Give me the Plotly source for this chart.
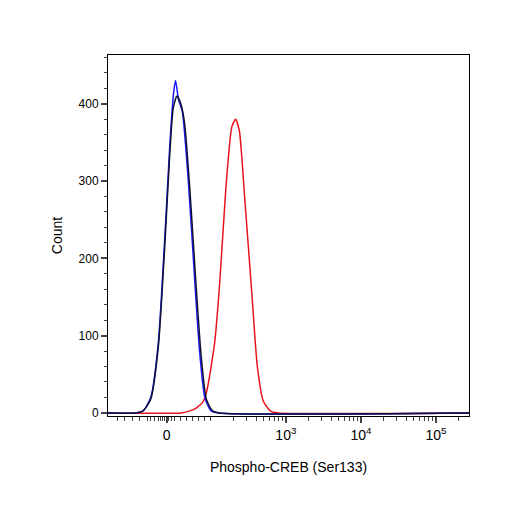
import numpy as np
import plotly.graph_objects as go

# x in display units (decades, biexponential-like axis)
blue_x = [0.63, 1.0, 1.1, 1.2, 1.3, 1.4, 1.45, 1.5, 1.53, 1.57, 1.62, 1.7, 1.78, 1.85, 1.92, 2.0, 2.1, 5.44]
blue_y = [0, 0, 3, 20, 90, 250, 340, 410, 430, 405, 390, 300, 180, 80, 20, 3, 0, 0]
black_x = [0.63, 1.0, 1.1, 1.2, 1.3, 1.4, 1.45, 1.5, 1.55, 1.6, 1.65, 1.72, 1.8, 1.87, 1.94, 2.02, 2.12, 5.44]
black_y = [0, 0, 3, 18, 85, 240, 330, 395, 410, 400, 375, 290, 170, 75, 18, 3, 0, 0]
red_x = [0.63, 1.6, 1.7, 1.8, 1.9, 1.95, 2.05, 2.12, 2.2, 2.28, 2.33, 2.38, 2.45, 2.55, 2.62, 2.7, 2.8, 2.9, 5.44]
red_y = [0, 0, 2, 6, 15, 30, 90, 170, 290, 370, 380, 365, 280, 150, 60, 15, 2, 0, 0]

major_x = [1.41, 3, 4, 5]
major_labels = ["0", "10<sup>3</sup>", "10<sup>4</sup>", "10<sup>5</sup>"]
minor_x = ([0.75, 0.85, 0.95, 1.05, 1.15, 1.2, 1.25, 1.3, 1.33, 1.36, 1.38, 1.41, 1.44, 1.47, 1.52, 1.6, 1.68, 1.76, 1.84, 1.92, 2.0]
           + [d + np.log10(k) for d in (2, 3, 4) for k in range(2, 10)] + [2, 5.3])

fig = go.Figure()
line_style = dict(width=1.5, shape="spline", smoothing=0.6)
fig.add_trace(go.Scatter(x=red_x, y=red_y, mode="lines", line=dict(color="#e8141c", **line_style)))
fig.add_trace(go.Scatter(x=blue_x, y=blue_y, mode="lines", line=dict(color="#1a1aff", **line_style)))
fig.add_trace(go.Scatter(x=black_x, y=black_y, mode="lines", line=dict(color="#111133", **line_style)))
fig.add_trace(go.Scatter(x=[None], y=[None], xaxis="x2", showlegend=False))

fig.update_layout(
    width=506, height=506, showlegend=False,
    paper_bgcolor="white", plot_bgcolor="white",
    margin=dict(l=100, r=45, t=47, b=98),
    font=dict(family="Arial, Liberation Sans", size=12, color="black"),
    xaxis=dict(range=[0.63, 5.44], tickvals=major_x, ticktext=major_labels, automargin=False,
               ticks="outside", ticklen=6, tickwidth=2, showgrid=False, zeroline=False,
               showline=True, linecolor="black", linewidth=1, mirror=True,
               title=dict(text="Phospho-CREB (Ser133)", standoff=20, font=dict(size=14)),
               tickfont=dict(size=14)),
    xaxis2=dict(range=[0.63, 5.44], overlaying="x", tickvals=minor_x, showticklabels=False,
                ticks="outside", ticklen=4, tickwidth=1, showgrid=False, zeroline=False,
                side="bottom", anchor="y", automargin=False),
    yaxis=dict(range=[-4, 463], tickvals=[0, 100, 200, 300, 400], automargin=False,
               ticks="outside", ticklen=6, tickwidth=2, showgrid=False, zeroline=False,
               showline=True, linecolor="black", linewidth=1, mirror=True,
               minor=dict(dtick=20, ticks="outside", ticklen=3, tickwidth=1),
               title=dict(text="Count", standoff=12, font=dict(size=14)),
               tickfont=dict(size=12)),
)
fig.write_html("out.html")
